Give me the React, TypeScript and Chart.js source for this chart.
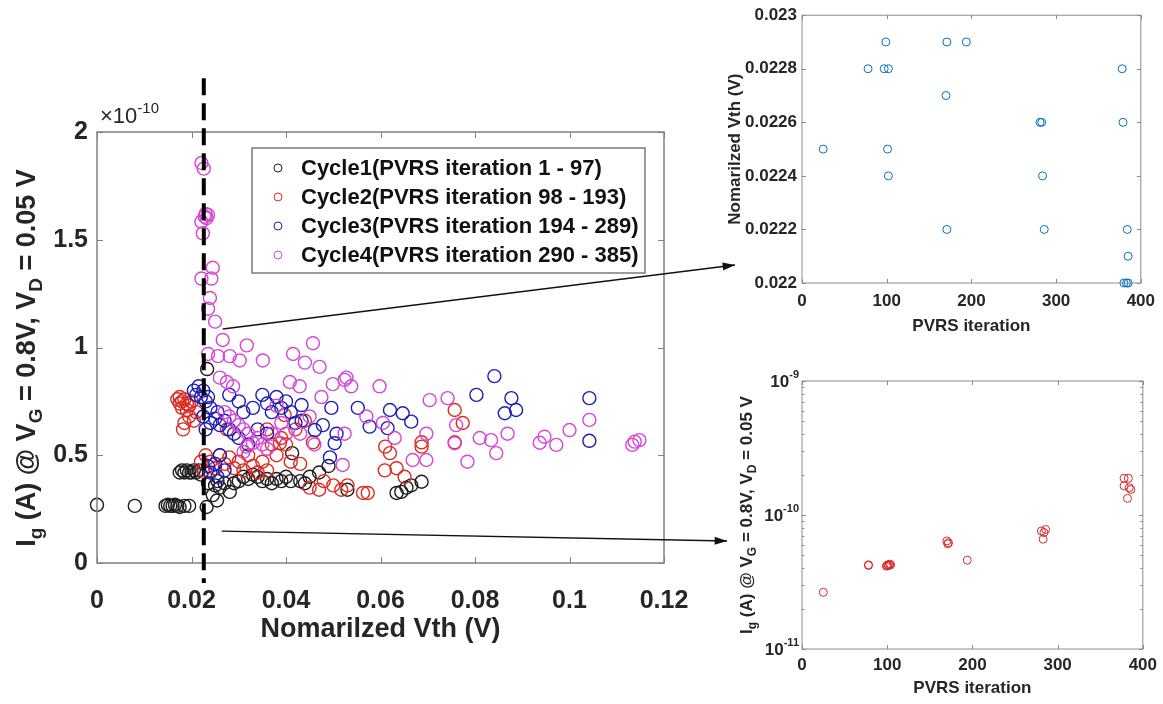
import React, { useEffect, useRef } from 'react';
import { Chart, registerables } from 'chart.js';
Chart.register(...registerables);

const FONT = '"Liberation Sans", Arial, Helvetica, sans-serif';
Chart.defaults.font.family = FONT;

// ---------------- main chart data (Ig in units of 1e-10 A) ----------------
const cycle1Vth = [0, 0.008, 0.0145, 0.015, 0.0155, 0.016, 0.0165, 0.017, 0.0175, 0.0185, 0.0195, 0.0232, 0.0175, 0.018, 0.0185, 0.019, 0.0195, 0.02, 0.0205, 0.021, 0.0215, 0.022, 0.0233, 0.0235, 0.0254, 0.0245, 0.025, 0.0255, 0.026, 0.027, 0.0281, 0.029, 0.03, 0.031, 0.032, 0.033, 0.034, 0.035, 0.036, 0.037, 0.038, 0.039, 0.04, 0.041, 0.0413, 0.043, 0.044, 0.045, 0.047, 0.049, 0.0634, 0.0644, 0.0655, 0.0665, 0.0687, 0.053];
const cycle1Ig = [0.27, 0.265, 0.265, 0.27, 0.265, 0.265, 0.27, 0.265, 0.26, 0.265, 0.265, 0.26, 0.42, 0.43, 0.42, 0.43, 0.42, 0.42, 0.43, 0.42, 0.43, 0.41, 0.9, 0.37, 0.29, 0.315, 0.36, 0.38, 0.35, 0.37, 0.33, 0.37, 0.38, 0.4, 0.39, 0.41, 0.4, 0.38, 0.39, 0.37, 0.39, 0.38, 0.4, 0.38, 0.51, 0.38, 0.37, 0.4, 0.42, 0.45, 0.325, 0.33, 0.35, 0.36, 0.377, 0.34];

const cycle2Vth = [0.017, 0.0175, 0.0175, 0.018, 0.018, 0.0185, 0.019, 0.019, 0.0195, 0.02, 0.0185, 0.0182, 0.0195, 0.0205, 0.021, 0.022, 0.0225, 0.023, 0.024, 0.025, 0.026, 0.027, 0.028, 0.029, 0.03, 0.031, 0.032, 0.033, 0.034, 0.035, 0.036, 0.037, 0.038, 0.039, 0.04, 0.041, 0.042, 0.043, 0.044, 0.0457, 0.045, 0.047, 0.0517, 0.0563, 0.0573, 0.0609, 0.0634, 0.0651, 0.061, 0.062, 0.0687, 0.0687, 0.0757, 0.0774, 0.0757, 0.048, 0.05, 0.053, 0.0275, 0.036, 0.0387, 0.0397];
const cycle2Ig = [0.76, 0.74, 0.77, 0.75, 0.72, 0.76, 0.74, 0.71, 0.73, 0.75, 0.65, 0.62, 0.68, 0.66, 0.7, 0.47, 0.43, 0.5, 0.47, 0.44, 0.5, 0.46, 0.49, 0.44, 0.47, 0.43, 0.5, 0.45, 0.42, 0.47, 0.43, 0.55, 0.5, 0.58, 0.55, 0.47, 0.62, 0.46, 0.66, 0.56, 0.35, 0.34, 0.34, 0.325, 0.325, 0.43, 0.44, 0.4, 0.54, 0.51, 0.56, 0.54, 0.71, 0.65, 0.56, 0.38, 0.36, 0.36, 0.62, 0.62, 0.556, 0.687];

const cycle3Vth = [0.0205, 0.021, 0.0215, 0.022, 0.0225, 0.023, 0.0235, 0.024, 0.0225, 0.023, 0.024, 0.025, 0.0255, 0.026, 0.027, 0.028, 0.029, 0.03, 0.0235, 0.024, 0.025, 0.026, 0.027, 0.0255, 0.028, 0.03, 0.031, 0.033, 0.035, 0.036, 0.037, 0.038, 0.039, 0.04, 0.041, 0.042, 0.0433, 0.0433, 0.0461, 0.0478, 0.0496, 0.0507, 0.0503, 0.0493, 0.0552, 0.0577, 0.0615, 0.062, 0.0647, 0.0665, 0.0803, 0.0841, 0.0863, 0.0877, 0.0887, 0.1042, 0.1042, 0.034, 0.036, 0.032];
const cycle3Ig = [0.8, 0.78, 0.82, 0.77, 0.8, 0.75, 0.77, 0.72, 0.68, 0.62, 0.65, 0.67, 0.7, 0.64, 0.66, 0.62, 0.6, 0.58, 0.45, 0.42, 0.46, 0.5, 0.43, 0.4, 0.78, 0.75, 0.7, 0.72, 0.78, 0.74, 0.7, 0.77, 0.72, 0.75, 0.7, 0.65, 0.733, 0.66, 0.617, 0.64, 0.72, 0.6, 0.556, 0.49, 0.72, 0.633, 0.626, 0.71, 0.695, 0.656, 0.78, 0.867, 0.695, 0.765, 0.71, 0.765, 0.567, 0.62, 0.6, 0.55];

const cycle4Vth = [0.0221, 0.0226, 0.0228, 0.0235, 0.0221, 0.0224, 0.023, 0.0232, 0.0245, 0.0221, 0.0242, 0.0239, 0.0235, 0.025, 0.0266, 0.0317, 0.0235, 0.0256, 0.0281, 0.0302, 0.0351, 0.0415, 0.044, 0.0471, 0.0457, 0.0408, 0.0429, 0.0524, 0.0499, 0.026, 0.0275, 0.0288, 0.0317, 0.031, 0.033, 0.0528, 0.0538, 0.0598, 0.0475, 0.0704, 0.0742, 0.057, 0.0605, 0.063, 0.0697, 0.076, 0.0524, 0.052, 0.0668, 0.0697, 0.0757, 0.081, 0.0834, 0.0845, 0.0784, 0.0869, 0.0937, 0.0947, 0.0972, 0.1, 0.1042, 0.1133, 0.1148, 0.1138, 0.027, 0.028, 0.029, 0.03, 0.031, 0.032, 0.034, 0.035, 0.036, 0.037, 0.039, 0.04, 0.043, 0.045, 0.038, 0.046];
const cycle4Ig = [1.856, 1.83, 1.607, 1.615, 1.584, 1.53, 1.62, 1.6, 1.37, 1.32, 1.32, 1.23, 1.18, 1.12, 1.035, 1.01, 0.97, 0.96, 0.96, 0.94, 0.94, 0.97, 0.93, 0.91, 1.02, 0.84, 0.82, 0.85, 0.83, 0.86, 0.84, 0.82, 0.54, 0.515, 0.557, 0.86, 0.82, 0.82, 0.77, 0.756, 0.765, 0.68, 0.65, 0.58, 0.6, 0.64, 0.6, 0.455, 0.478, 0.478, 0.556, 0.58, 0.57, 0.51, 0.47, 0.6, 0.558, 0.586, 0.548, 0.617, 0.664, 0.548, 0.57, 0.563, 0.7, 0.68, 0.66, 0.64, 0.62, 0.6, 0.58, 0.55, 0.53, 0.6, 0.65, 0.6, 0.6, 0.68, 0.73, 0.55];

const cycleLabels = [
  'Cycle1(PVRS iteration 1 - 97)',
  'Cycle2(PVRS iteration 98 - 193)',
  'Cycle3(PVRS iteration 194 - 289)',
  'Cycle4(PVRS iteration 290 - 385)',
];

const mainXTicks = [0, 0.02, 0.04, 0.06, 0.08, 0.1, 0.12];
const mainYTicks = [0, 0.5, 1, 1.5, 2];
const dashedVth = 0.0226;

// ---------------- inset data ----------------
const topIter = [25, 78, 97, 102, 99, 171, 194, 170, 281, 283, 378, 379, 101, 102, 284, 171, 286, 384, 385, 380, 383, 385];
const topVth = [0.0225, 0.0228, 0.0228, 0.0228, 0.0229, 0.0229, 0.0229, 0.0227, 0.0226, 0.0226, 0.0228, 0.0226, 0.0225, 0.0224, 0.0224, 0.0222, 0.0222, 0.0222, 0.0221, 0.022, 0.022, 0.022];

const botIter = [25, 78, 78, 99, 100, 101, 102, 103, 104, 170, 171, 172, 194, 281, 283, 284, 286, 378, 383, 378, 384, 386, 382];
const botIg = [2.65e-11, 4.2e-11, 4.25e-11, 4.15e-11, 4.2e-11, 4.25e-11, 4.2e-11, 4.3e-11, 4.25e-11, 6.4e-11, 6.1e-11, 6.2e-11, 4.6e-11, 7.6e-11, 6.6e-11, 7.4e-11, 7.8e-11, 1.88e-10, 1.88e-10, 1.65e-10, 1.6e-10, 1.55e-10, 1.33e-10];

const insetXTicks = [0, 100, 200, 300, 400];
const topYTicks = [0.022, 0.0222, 0.0224, 0.0226, 0.0228, 0.023];
const botYTicks = [1e-11, 1e-10, 1e-9];

const igTitleParts = [
  { t: 'I' }, { t: 'g', s: 'sub' }, { t: ' (A) @ V' }, { t: 'G', s: 'sub' },
  { t: ' = 0.8V, V' }, { t: 'D', s: 'sub' }, { t: ' = 0.05 V' },
];

// ---------------- styling ----------------
const cycleColors = ['rgb(30,30,30)', 'rgb(220,45,35)', 'rgb(30,30,180)', 'rgb(215,70,215)'];
const TXT = '#262626';

const pts = (xs: number[], ys: number[]) => xs.map((x, i) => ({ x, y: ys[i] }));
const fmt = (v: number) => String(Number(Number(v).toFixed(4)));

function drawRich(ctx: CanvasRenderingContext2D, parts: any[], cx: number, cy: number, size: number, rotate: boolean) {
  const small = Math.round(size * 0.7);
  const f = (p: any) => `bold ${p.s ? small : size}px ${FONT}`;
  ctx.save();
  ctx.translate(cx, cy);
  if (rotate) ctx.rotate(-Math.PI / 2);
  ctx.fillStyle = TXT;
  ctx.textBaseline = 'middle';
  ctx.textAlign = 'left';
  const ws = parts.map((p) => { ctx.font = f(p); return ctx.measureText(p.t).width; });
  let x = -ws.reduce((s, w) => s + w, 0) / 2;
  parts.forEach((p, i) => {
    ctx.font = f(p);
    const dy = p.s === 'sub' ? size * 0.32 : p.s === 'sup' ? -size * 0.38 : 0;
    ctx.fillText(p.t, x, dy);
    x += ws[i];
  });
  ctx.restore();
}

function frameAndTicks(chart: any, xt: number[], yt: number[], len: number, color: string, lw: number) {
  const { ctx, chartArea: a, scales: { x, y } } = chart;
  ctx.save();
  ctx.strokeStyle = color;
  ctx.lineWidth = lw;
  ctx.strokeRect(a.left, a.top, a.right - a.left, a.bottom - a.top);
  ctx.lineWidth = 1;
  ctx.beginPath();
  xt.forEach((v) => {
    const px = Math.round(x.getPixelForValue(v)) + 0.5;
    ctx.moveTo(px, a.bottom); ctx.lineTo(px, a.bottom - len);
    ctx.moveTo(px, a.top); ctx.lineTo(px, a.top + len);
  });
  yt.forEach((v) => {
    const py = Math.round(y.getPixelForValue(v)) + 0.5;
    ctx.moveTo(a.left, py); ctx.lineTo(a.left + len, py);
    ctx.moveTo(a.right, py); ctx.lineTo(a.right - len, py);
  });
  ctx.stroke();
  ctx.restore();
}

function arrow(ctx: CanvasRenderingContext2D, x1: number, y1: number, x2: number, y2: number) {
  ctx.save();
  ctx.strokeStyle = '#111';
  ctx.fillStyle = '#111';
  ctx.lineWidth = 1.4;
  ctx.beginPath(); ctx.moveTo(x1, y1); ctx.lineTo(x2, y2); ctx.stroke();
  const ang = Math.atan2(y2 - y1, x2 - x1);
  const L = 13;
  ctx.beginPath();
  ctx.moveTo(x2, y2);
  ctx.lineTo(x2 - L * Math.cos(ang - 0.32), y2 - L * Math.sin(ang - 0.32));
  ctx.lineTo(x2 - L * Math.cos(ang + 0.32), y2 - L * Math.sin(ang + 0.32));
  ctx.closePath(); ctx.fill();
  ctx.restore();
}

const mainDecor = {
  id: 'mainDecor',
  afterDatasetsDraw(chart: any) {
    frameAndTicks(chart, mainXTicks, mainYTicks, 6, '#808080', 1.5);
  },
  afterDraw(chart: any) {
    const { ctx, chartArea: a, scales: { x, y } } = chart;
    // exponent
    ctx.save();
    ctx.fillStyle = TXT;
    ctx.textBaseline = 'alphabetic';
    ctx.textAlign = 'left';
    ctx.font = `22px ${FONT}`;
    const base = '\u00d710';
    ctx.fillText(base, a.left + 3, a.top - 9);
    const bw = ctx.measureText(base).width;
    ctx.font = `15px ${FONT}`;
    ctx.fillText('-10', a.left + 3 + bw, a.top - 19);
    ctx.restore();
    // y title
    drawRich(ctx, igTitleParts, 28, 358, 27, true);
    // legend
    const lx = 252, ly = 148, lw = 393, lh = 125;
    ctx.save();
    ctx.fillStyle = '#fff';
    ctx.fillRect(lx, ly, lw, lh);
    ctx.strokeStyle = '#7a7a7a';
    ctx.lineWidth = 1.5;
    ctx.strokeRect(lx, ly, lw, lh);
    chart.data.datasets.forEach((ds: any, i: number) => {
      const cy = ly + 20 + i * 29;
      ctx.beginPath();
      ctx.strokeStyle = ds.borderColor;
      ctx.lineWidth = 1;
      ctx.arc(lx + 26, cy, 4, 0, Math.PI * 2);
      ctx.stroke();
      ctx.fillStyle = '#111';
      ctx.font = `bold 22px ${FONT}`;
      ctx.textBaseline = 'middle';
      ctx.fillText(ds.label, lx + 49, cy + 1);
    });
    ctx.restore();
    // dashed line
    const dx = x.getPixelForValue(dashedVth);
    ctx.save();
    ctx.strokeStyle = '#000';
    ctx.lineWidth = 4;
    ctx.setLineDash([17, 8]);
    ctx.beginPath();
    ctx.moveTo(dx, y.getPixelForValue(2.25));
    ctx.lineTo(dx, y.getPixelForValue(-0.093));
    ctx.stroke();
    ctx.restore();
    // arrows to insets
    arrow(ctx, x.getPixelForValue(0.0266), y.getPixelForValue(1.086), 735, 265);
    arrow(ctx, x.getPixelForValue(0.0264), y.getPixelForValue(0.148), 727, 541);
  },
};

const topDecor = {
  id: 'topDecor',
  afterDatasetsDraw(chart: any) {
    frameAndTicks(chart, insetXTicks, topYTicks, 4, '#8c8c8c', 1);
  },
};

const botDecor = {
  id: 'botDecor',
  afterDatasetsDraw(chart: any) {
    const minors: number[] = [];
    [-11, -10].forEach((d) => { for (let m = 2; m <= 9; m++) minors.push(m * Math.pow(10, d)); });
    frameAndTicks(chart, insetXTicks, botYTicks, 4, '#8c8c8c', 1);
    const { ctx, chartArea: a, scales: { y } } = chart;
    ctx.save();
    ctx.strokeStyle = '#8c8c8c';
    ctx.lineWidth = 1;
    ctx.beginPath();
    minors.forEach((v) => {
      const py = Math.round(y.getPixelForValue(v)) + 0.5;
      ctx.moveTo(a.left, py); ctx.lineTo(a.left + 2.5, py);
      ctx.moveTo(a.right, py); ctx.lineTo(a.right - 2.5, py);
    });
    ctx.stroke();
    // log tick labels
    ctx.fillStyle = TXT;
    ctx.textAlign = 'left';
    ctx.textBaseline = 'middle';
    botYTicks.forEach((v) => {
      const py = y.getPixelForValue(v);
      const exp = String(Math.round(Math.log10(v)));
      ctx.font = `bold 17px ${FONT}`;
      const w1 = ctx.measureText('10').width;
      ctx.font = `bold 11px ${FONT}`;
      const w2 = ctx.measureText(exp).width;
      const x0 = a.left - 3 - w1 - w2;
      ctx.font = `bold 17px ${FONT}`;
      ctx.fillText('10', x0, py + 1);
      ctx.font = `bold 11px ${FONT}`;
      ctx.fillText(exp, x0 + w1, py - 6);
    });
    ctx.restore();
    drawRich(ctx, igTitleParts, 47, (a.top + a.bottom) / 2, 17, true);
  },
};

const tickFont = (size: number) => ({ family: FONT, size, weight: 'bold' as const });

function mainConfig(): any {
  const sets = [
    [cycle1Vth, cycle1Ig],
    [cycle2Vth, cycle2Ig],
    [cycle3Vth, cycle3Ig],
    [cycle4Vth, cycle4Ig],
  ];
  return {
    type: 'scatter',
    data: {
      datasets: sets.map(([xs, ys], i) => ({
        label: cycleLabels[i],
        data: pts(xs, ys),
        borderColor: cycleColors[i],
        backgroundColor: 'rgba(0,0,0,0)',
        pointRadius: 6.5,
        pointHoverRadius: 6.5,
        pointBorderWidth: 1.4,
        order: 4 - i,
        clip: false,
      })),
    },
    options: {
      responsive: false,
      animation: false,
      devicePixelRatio: 1,
      events: [],
      layout: { padding: { left: 0, top: 132, right: 499, bottom: 0 } },
      plugins: { legend: { display: false }, tooltip: { enabled: false } },
      scales: {
        x: {
          type: 'linear', min: 0, max: 0.12,
          afterBuildTicks: (s: any) => { s.ticks = mainXTicks.map((v) => ({ value: v })); },
          afterFit: (s: any) => { s.height = 141; },
          grid: { display: false, drawTicks: false },
          border: { display: false },
          ticks: { padding: 23, color: TXT, font: tickFont(25), callback: (v: any) => fmt(v), maxRotation: 0 },
          title: { display: true, text: 'Nomarilzed Vth (V)', color: TXT, font: tickFont(27), padding: { top: 0, bottom: 58 } },
        },
        y: {
          type: 'linear', min: 0, max: 2,
          afterBuildTicks: (s: any) => { s.ticks = mainYTicks.map((v) => ({ value: v })); },
          afterFit: (s: any) => { s.width = 97; },
          grid: { display: false, drawTicks: false },
          border: { display: false },
          ticks: { padding: 9, color: TXT, font: tickFont(25), callback: (v: any) => fmt(v) },
        },
      },
    },
    plugins: [mainDecor],
  };
}

function topConfig(): any {
  return {
    type: 'scatter',
    data: {
      datasets: [{
        label: 'Nomarilzed Vth',
        data: pts(topIter, topVth),
        borderColor: 'rgb(0,114,189)',
        backgroundColor: 'rgba(0,0,0,0)',
        pointRadius: 4,
        pointHoverRadius: 4,
        pointBorderWidth: 1,
        clip: false,
      }],
    },
    options: {
      responsive: false,
      animation: false,
      devicePixelRatio: 1,
      events: [],
      layout: { padding: { left: 0, top: 10, right: 20, bottom: 0 } },
      plugins: { legend: { display: false }, tooltip: { enabled: false } },
      scales: {
        x: {
          type: 'linear', min: 0, max: 400,
          afterBuildTicks: (s: any) => { s.ticks = insetXTicks.map((v) => ({ value: v })); },
          afterFit: (s: any) => { s.height = 62; },
          grid: { display: false, drawTicks: false },
          border: { display: false },
          ticks: { padding: 8, color: TXT, font: tickFont(17), callback: (v: any) => fmt(v), maxRotation: 0 },
          title: { display: true, text: 'PVRS iteration', color: TXT, font: tickFont(17), padding: { top: 0, bottom: 8 } },
        },
        y: {
          type: 'linear', min: 0.022, max: 0.023,
          afterBuildTicks: (s: any) => { s.ticks = topYTicks.map((v) => ({ value: v })); },
          afterFit: (s: any) => { s.width = 102; },
          grid: { display: false, drawTicks: false },
          border: { display: false },
          ticks: { padding: 5, color: TXT, font: tickFont(17), callback: (v: any) => fmt(v) },
          title: { display: true, text: 'Nomarilzed Vth (V)', color: TXT, font: tickFont(17), padding: { top: 25, bottom: 0 } },
        },
      },
    },
    plugins: [topDecor],
  };
}

function botConfig(): any {
  return {
    type: 'scatter',
    data: {
      datasets: [{
        label: 'Ig',
        data: pts(botIter, botIg),
        borderColor: 'rgb(215,40,40)',
        backgroundColor: 'rgba(0,0,0,0)',
        pointRadius: 4,
        pointHoverRadius: 4,
        pointBorderWidth: 1,
        clip: false,
      }],
    },
    options: {
      responsive: false,
      animation: false,
      devicePixelRatio: 1,
      events: [],
      layout: { padding: { left: 0, top: 21, right: 20, bottom: 0 } },
      plugins: { legend: { display: false }, tooltip: { enabled: false } },
      scales: {
        x: {
          type: 'linear', min: 0, max: 400,
          afterBuildTicks: (s: any) => { s.ticks = insetXTicks.map((v) => ({ value: v })); },
          afterFit: (s: any) => { s.height = 55; },
          grid: { display: false, drawTicks: false },
          border: { display: false },
          ticks: { padding: 6, color: TXT, font: tickFont(17), callback: (v: any) => fmt(v), maxRotation: 0 },
          title: { display: true, text: 'PVRS iteration', color: TXT, font: tickFont(17), padding: { top: 0, bottom: 5 } },
        },
        y: {
          type: 'logarithmic', min: 1e-11, max: 1e-9,
          afterBuildTicks: (s: any) => { s.ticks = botYTicks.map((v) => ({ value: v })); },
          afterFit: (s: any) => { s.width = 102; },
          grid: { display: false, drawTicks: false },
          border: { display: false },
          ticks: { display: false },
        },
      },
    },
    plugins: [botDecor],
  };
}

export default function App() {
  const mainRef = useRef<HTMLCanvasElement>(null);
  const topRef = useRef<HTMLCanvasElement>(null);
  const botRef = useRef<HTMLCanvasElement>(null);

  useEffect(() => {
    const charts = [
      new Chart(mainRef.current as HTMLCanvasElement, mainConfig()),
      new Chart(topRef.current as HTMLCanvasElement, topConfig()),
      new Chart(botRef.current as HTMLCanvasElement, botConfig()),
    ];
    return () => charts.forEach((c) => c.destroy());
  }, []);

  return (
    <div style={{ position: 'fixed', left: 0, top: 0, width: 1163, height: 704, background: '#fff', overflow: 'hidden' }}>
      <canvas ref={mainRef} width={1163} height={704} style={{ position: 'absolute', left: 0, top: 0, width: 1163, height: 704 }} />
      <canvas ref={topRef} width={463} height={345} style={{ position: 'absolute', left: 700, top: 0, width: 463, height: 345 }} />
      <canvas ref={botRef} width={463} height={344} style={{ position: 'absolute', left: 700, top: 360, width: 463, height: 344 }} />
    </div>
  );
}
